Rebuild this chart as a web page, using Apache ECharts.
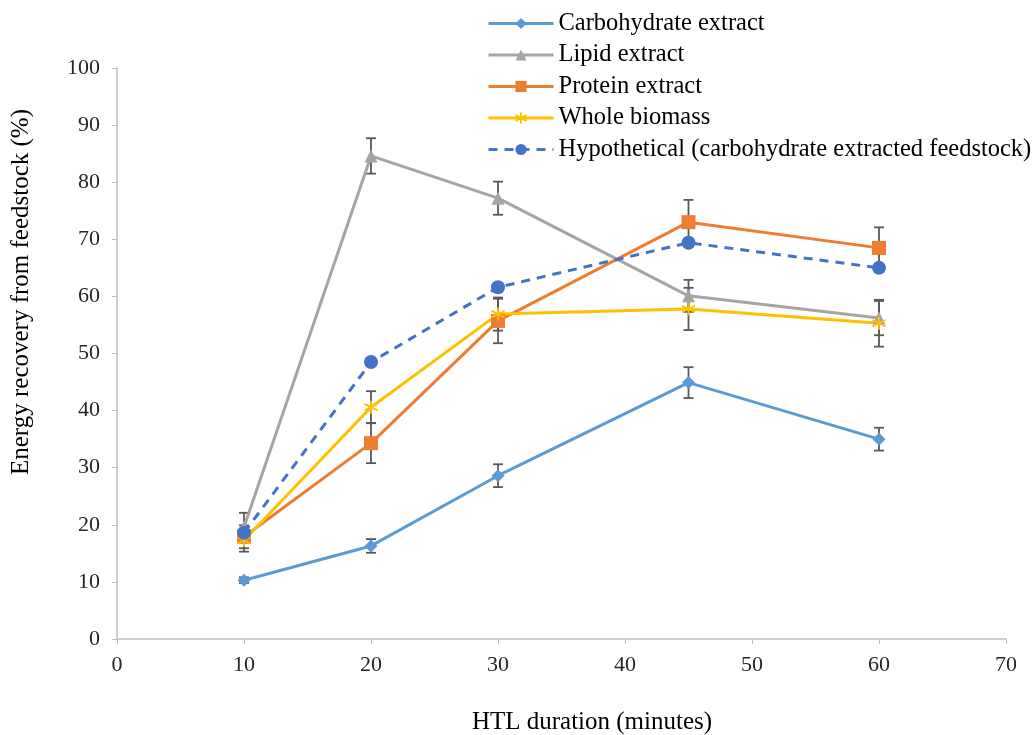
<!DOCTYPE html>
<html>
<head>
<meta charset="utf-8">
<script src="https://cdn.jsdelivr.net/npm/echarts@6/dist/echarts.min.js"></script>
<style>html,body{margin:0;padding:0;background:#fff;}#c{width:1032px;height:735px;}</style>
</head>
<body>
<div id="c"></div>
<script>
const xValues = [10, 20, 30, 45, 60];
const carbohydrate = [10.3, 16.3, 28.6, 44.9, 35.0];
const lipid = [19.6, 84.6, 77.2, 60.1, 56.2];
const protein = [17.9, 34.3, 55.7, 73.0, 68.5];
const whole = [17.3, 40.6, 56.9, 57.8, 55.3];
const hypothetical = [18.6, 48.5, 61.6, 69.4, 65.0];
const carbohydrateErr = [0.5, 1.2, 2.0, 2.7, 2.0];
const lipidErr = [2.5, 3.1, 2.9, 2.8, 3.0];
const proteinErr = [2.0, 3.5, 3.9, 3.9, 3.6];
const wholeErr = [2.0, 2.8, 2.9, 3.7, 4.1];
const seriesNames = ['Carbohydrate extract', 'Lipid extract', 'Protein extract', 'Whole biomass', 'Hypothetical (carbohydrate extracted feedstock)'];
const xTitle = 'HTL duration (minutes)';
const yTitle = 'Energy recovery from feedstock (%)';

const FONT = '"Liberation Serif", "Times New Roman", serif';
const pairs = arr => xValues.map((x, i) => [x, arr[i]]);

const errData = [];
[[carbohydrate, carbohydrateErr], [lipid, lipidErr], [protein, proteinErr], [whole, wholeErr]].forEach(([v, e]) => {
  xValues.forEach((x, i) => errData.push([x, v[i] - e[i], v[i] + e[i]]));
});

const chart = echarts.init(document.getElementById('c'));
const asterisk = 'path://M0,-6L0,6M-5.2,-3L5.2,3M-5.2,3L5.2,-3';

chart.setOption({
  animation: false,
  backgroundColor: '#fff',
  grid: { left: 117, right: 26, top: 68, bottom: 96, containLabel: false, outerBoundsMode: 'none' },
  graphic: [
    {
      type: 'text', x: 592, y: 722,
      style: { text: xTitle, font: '25px ' + FONT, fill: '#000', textAlign: 'center', textVerticalAlign: 'middle' }
    },
    {
      type: 'text', x: 21, y: 292, rotation: Math.PI / 2,
      style: { text: yTitle, font: '25px ' + FONT, fill: '#000', textAlign: 'center', textVerticalAlign: 'middle' }
    }
  ],
  legend: {
    orient: 'vertical', left: 487, top: 11, padding: 0,
    itemWidth: 65, itemHeight: 14, itemGap: 6.5,
    data: seriesNames,
    lineStyle: { width: 3 },
    textStyle: { fontFamily: FONT, fontSize: 24.5, color: '#000', lineHeight: 24.5 }
  },
  xAxis: {
    type: 'value', min: 0, max: 70, interval: 10,
    axisLine: { lineStyle: { color: '#bfbfbf', width: 1.5 } },
    axisTick: { show: true, length: 5, lineStyle: { color: '#bfbfbf' } },
    axisLabel: { fontFamily: FONT, fontSize: 22, color: '#262626', margin: 15 },
    splitLine: { show: false }
  },
  yAxis: {
    type: 'value', min: 0, max: 100, interval: 10,
    axisLine: { show: true, lineStyle: { color: '#bfbfbf', width: 1.5 } },
    axisTick: { show: true, length: 5, lineStyle: { color: '#bfbfbf' } },
    axisLabel: { fontFamily: FONT, fontSize: 22, color: '#262626', margin: 17 },
    splitLine: { show: false }
  },
  series: [
    {
      type: 'custom', name: 'err', silent: true, z: 1,
      data: errData,
      encode: { x: 0, y: [1, 2] },
      renderItem: function (params, api) {
        const x = api.value(0);
        const lo = api.coord([x, api.value(1)]);
        const hi = api.coord([x, api.value(2)]);
        const w = 5;
        const st = { stroke: '#595959', lineWidth: 1.8 };
        return {
          type: 'group',
          children: [
            { type: 'line', shape: { x1: lo[0], y1: lo[1], x2: hi[0], y2: hi[1] }, style: st },
            { type: 'line', shape: { x1: lo[0] - w, y1: lo[1], x2: lo[0] + w, y2: lo[1] }, style: st },
            { type: 'line', shape: { x1: hi[0] - w, y1: hi[1], x2: hi[0] + w, y2: hi[1] }, style: st }
          ]
        };
      }
    },
    {
      name: seriesNames[0], type: 'line', data: pairs(carbohydrate), z: 3,
      symbol: 'diamond', symbolSize: 13,
      lineStyle: { color: '#5B9BD5', width: 3 }, itemStyle: { color: '#5B9BD5' }
    },
    {
      name: seriesNames[1], type: 'line', data: pairs(lipid), z: 3,
      symbol: 'triangle', symbolSize: 13,
      lineStyle: { color: '#A5A5A5', width: 3 }, itemStyle: { color: '#A5A5A5' }
    },
    {
      name: seriesNames[2], type: 'line', data: pairs(protein), z: 3,
      symbol: 'rect', symbolSize: 14,
      lineStyle: { color: '#ED7D31', width: 3 }, itemStyle: { color: '#ED7D31' }
    },
    {
      name: seriesNames[3], type: 'line', data: pairs(whole), z: 3,
      symbol: asterisk, symbolSize: 13,
      lineStyle: { color: '#FFC000', width: 3 },
      itemStyle: { color: '#FFC000', borderColor: '#FFC000', borderWidth: 1.8 }
    },
    {
      name: seriesNames[4], type: 'line', data: pairs(hypothetical), z: 3,
      symbol: 'circle', symbolSize: 14,
      lineStyle: { color: '#4472C4', width: 3, type: [9, 7] }, itemStyle: { color: '#4472C4' }
    }
  ]
});
</script>
</body>
</html>
